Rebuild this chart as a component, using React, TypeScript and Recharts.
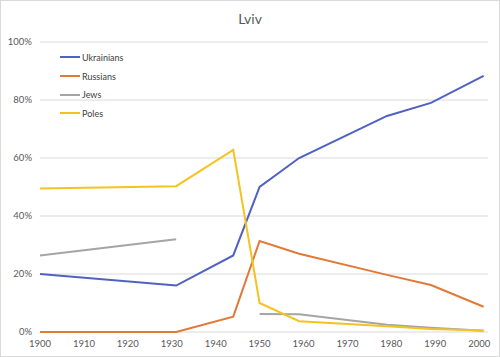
import React from "react";
import { LineChart, Line, XAxis, YAxis, CartesianGrid, Legend } from "recharts";

const years = [1900, 1931, 1944, 1950, 1959, 1979, 1989, 2001];
const ukrainians = [20, 16, 26.4, 50, 60, 74.5, 79, 88.3];
const russians = [0, 0, 5.3, 31.4, 27, 19.7, 16.2, 8.7];
const jews: (number | null)[] = [26.4, 32, null, 6.2, 6.1, 2.5, 1.5, 0.4];
const poles = [49.5, 50.3, 62.8, 10, 3.7, 2, 1, 0.5];
const xTicks = [1900, 1910, 1920, 1930, 1940, 1950, 1960, 1970, 1980, 1990, 2000];
const yTicks = [0, 20, 40, 60, 80, 100];

const series = [
  { key: "Ukrainians", values: ukrainians, color: "#5061C2" },
  { key: "Russians", values: russians, color: "#E07A38" },
  { key: "Jews", values: jews, color: "#A5A5A5" },
  { key: "Poles", values: poles, color: "#F5C320" },
];

const data = years.map((y, i) => {
  const row: Record<string, number | null> = { year: y };
  series.forEach((s) => {
    row[s.key] = s.values[i];
  });
  return row;
});

const FONT = "Lato, 'Open Sans', sans-serif";

const renderLegend = () => (
  <div style={{ fontFamily: FONT, fontSize: 9, color: "#404040" }}>
    {series.map((s) => (
      <div key={s.key} style={{ display: "flex", alignItems: "center", height: 18.7 }}>
        <svg width={20} height={4} style={{ marginRight: 2 }}>
          <line x1={0} y1={2} x2={20} y2={2} stroke={s.color} strokeWidth={2} />
        </svg>
        <span>{s.key}</span>
      </div>
    ))}
  </div>
);

export default function App() {
  return (
    <div style={{ position: "absolute", left: 0, top: 0, width: 500, height: 357, background: "#fff" }}>
      <LineChart
        width={500}
        height={357}
        data={data}
        margin={{ top: 42, right: 12, bottom: 5, left: 0 }}
      >
        <text
          x={250}
          y={24}
          textAnchor="middle"
          style={{ fontFamily: FONT, fontSize: 14, fill: "#595959" }}
        >
          Lviv
        </text>
        <CartesianGrid vertical={false} stroke="#d9d9d9" strokeWidth={1} />
        <XAxis
          dataKey="year"
          type="number"
          domain={[1900, 2002]}
          ticks={xTicks}
          axisLine={false}
          tickLine={false}
          height={20}
          tick={{ fontFamily: FONT, fontSize: 9.5, fill: "#595959" }}
          interval={0}
        />
        <YAxis
          type="number"
          domain={[0, 100]}
          ticks={yTicks}
          width={40}
          axisLine={false}
          tickLine={false}
          tickFormatter={(v: number) => `${v}%`}
          tick={{ fontFamily: FONT, fontSize: 9.5, fill: "#595959" }}
        />
        <Legend
          layout="vertical"
          align="center"
          verticalAlign="middle"
          wrapperStyle={{ left: 60, top: 48, width: 100 }}
          content={renderLegend}
        />
        {series.map((s) => (
          <Line
            key={s.key}
            type="linear"
            dataKey={s.key}
            stroke={s.color}
            strokeWidth={2}
            dot={false}
            activeDot={false}
            connectNulls={false}
            isAnimationActive={false}
          />
        ))}
      </LineChart>
      <div
        style={{
          position: "absolute",
          left: 0,
          top: 0,
          width: 500,
          height: 357,
          boxSizing: "border-box",
          border: "1px solid #d9d9d9",
          pointerEvents: "none",
        }}
      />
    </div>
  );
}
